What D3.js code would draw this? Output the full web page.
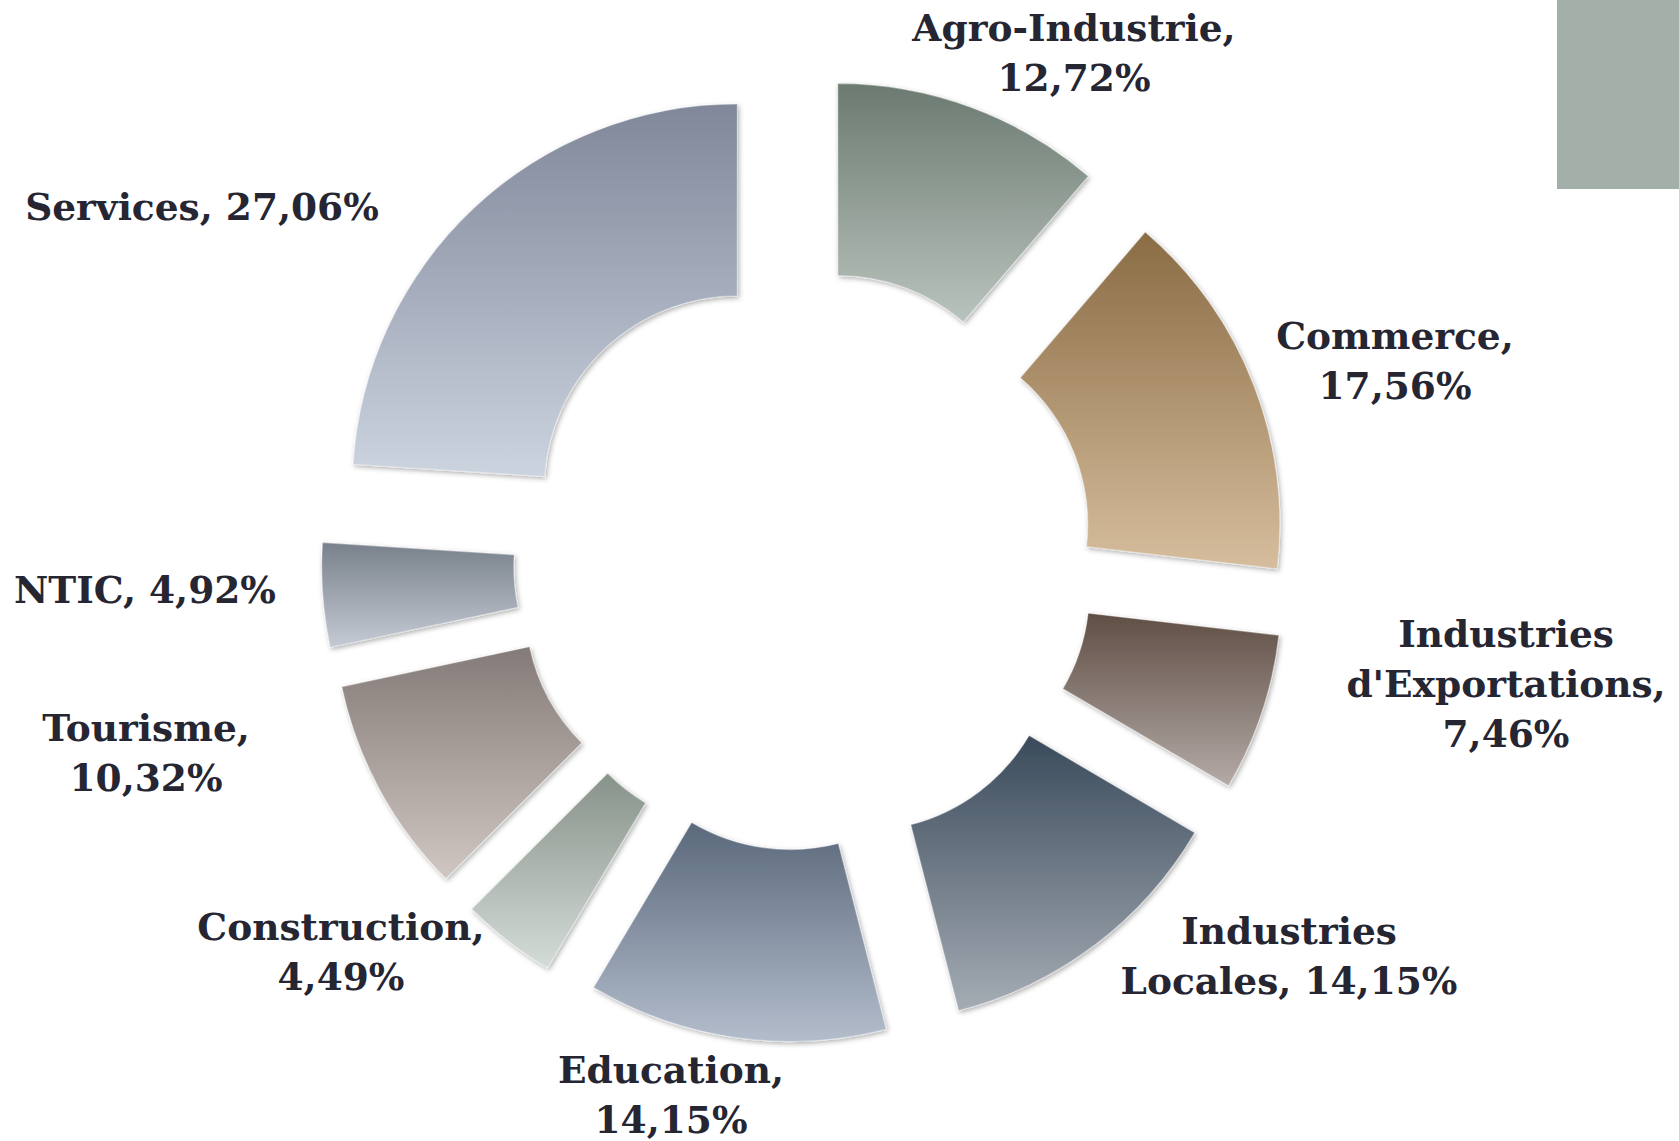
<!DOCTYPE html>
<html>
<head>
<meta charset="utf-8">
<script src="https://cdn.jsdelivr.net/npm/d3@7"></script>
<style>
  html, body { margin: 0; padding: 0; background: #ffffff; }
  svg { display: block; }
</style>
</head>
<body>
<svg id="chart" width="1679" height="1141"></svg>
<script>
// ---- data ----
const categories = ["Agro-Industrie", "Commerce", "Industries d'Exportations", "Industries Locales", "Education", "Construction", "Tourisme", "NTIC", "Services"];
const values = [12.72, 17.56, 7.46, 14.15, 14.15, 4.49, 10.32, 4.92, 27.06];
const valueLabels = ["12,72%", "17,56%", "7,46%", "14,15%", "14,15%", "4,49%", "10,32%", "4,92%", "27,06%"];
const labelLines = [
  ["Agro-Industrie,", "12,72%"],
  ["Commerce,", "17,56%"],
  ["Industries", "d'Exportations,", "7,46%"],
  ["Industries", "Locales, 14,15%"],
  ["Education,", "14,15%"],
  ["Construction,", "4,49%"],
  ["Tourisme,", "10,32%"],
  ["NTIC, 4,92%"],
  ["Services, 27,06%"]
];

// ---- styles / layout ----
const topColors    = ["#6b7a70", "#8a6c44", "#5f4e44", "#3a4a5b", "#5a687b", "#87928a", "#847a77", "#78808b", "#7f8799"];
const bottomColors = ["#b9c3bd", "#d6bd9d", "#b4aaa7", "#a5acb4", "#b3bdcc", "#d4dcd7", "#d0c7c3", "#c5cbd4", "#ccd4e0"];
const labelOffsets = [[270,-508],[591,-200],[702,123],[485,395],[-133,534],[-463,391],[-658,192],[-659,29],[-602,-354]];

const W = 1679, H = 1141;
const cx = 804, cy = 560;
const rInner = 193, rOuter = 385, explode = 97.5;
const lineH = 50;

const svg = d3.select("#chart");
const defs = svg.append("defs");

categories.forEach((c, i) => {
  const g = defs.append("linearGradient")
    .attr("id", "grad" + i)
    .attr("x1", 0).attr("y1", 0).attr("x2", 0).attr("y2", 1);
  g.append("stop").attr("offset", "0%").attr("stop-color", topColors[i]);
  g.append("stop").attr("offset", "100%").attr("stop-color", bottomColors[i]);
});

const f = defs.append("filter").attr("id", "shadow")
  .attr("x", "-10%").attr("y", "-10%").attr("width", "120%").attr("height", "120%");
f.append("feDropShadow").attr("dx", 1.5).attr("dy", 2).attr("stdDeviation", 2.5)
  .attr("flood-color", "#000").attr("flood-opacity", 0.32);

// gray rectangle at top right
svg.append("rect")
  .attr("x", 1557).attr("y", 0)
  .attr("width", W - 1557).attr("height", 189)
  .attr("fill", "#a5afa9");

const pie = d3.pie().sort(null).value(d => d)
  .startAngle(0).endAngle(2 * Math.PI);
const arcs = pie(values);

const arc = d3.arc().innerRadius(rInner).outerRadius(rOuter);

const gChart = svg.append("g").attr("transform", `translate(${cx},${cy})`);

gChart.selectAll("path.slice")
  .data(arcs)
  .join("path")
  .attr("class", "slice")
  .attr("d", arc)
  .attr("transform", d => {
    const a = (d.startAngle + d.endAngle) / 2;
    return `translate(${explode * Math.sin(a)},${-explode * Math.cos(a)})`;
  })
  .attr("fill", (d, i) => `url(#grad${i})`)
  .attr("stroke", "rgba(255,255,255,0.35)")
  .attr("stroke-width", 1.2)
  .attr("filter", "url(#shadow)");

// labels
const labels = gChart.selectAll("text.lbl")
  .data(labelLines)
  .join("text")
  .attr("class", "lbl")
  .attr("text-anchor", "middle")
  .attr("font-family", "'DejaVu Serif', serif")
  .attr("font-weight", "bold")
  .attr("font-size", 37.5)
  .attr("fill", "#262633")
  .attr("transform", (d, i) => `translate(${labelOffsets[i][0]},${labelOffsets[i][1]})`);

labels.each(function(lines) {
  const t = d3.select(this);
  const n = lines.length;
  lines.forEach((ln, k) => {
    t.append("tspan")
      .attr("x", 0)
      .attr("y", (k - (n - 1) / 2) * lineH)
      .attr("dy", "0.36em")
      .text(ln);
  });
});
</script>
</body>
</html>
